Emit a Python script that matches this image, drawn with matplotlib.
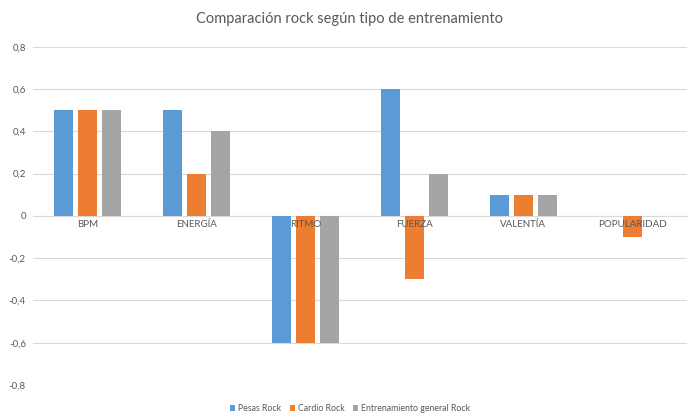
import numpy as np
import matplotlib.pyplot as plt

categorias = ['BPM', 'ENERGÍA', 'RITMO', 'FUERZA', 'VALENTÍA', 'POPULARIDAD']
pesas_rock = [0.5, 0.5, -0.6, 0.6, 0.1, 0.0]
cardio_rock = [0.5, 0.2, -0.6, -0.3, 0.1, -0.1]
general_rock = [0.5, 0.4, -0.6, 0.2, 0.1, 0.0]
series = ['Pesas Rock', 'Cardio Rock', 'Entrenamiento general Rock']
colores = ['#5B9BD5', '#ED7D31', '#A5A5A5']
yticks = [-0.8, -0.6, -0.4, -0.2, 0, 0.2, 0.4, 0.6, 0.8]

plt.rcParams['font.family'] = ['Lato', 'DejaVu Sans']
gris_texto = '#595959'

fig = plt.figure(figsize=(7, 4.18), dpi=100)
ax = fig.add_axes([0.047, 0.079, 0.934, 0.809])

x = np.arange(len(categorias))
ancho = 0.175
paso = 0.22
for i, (vals, nombre, col) in enumerate(zip([pesas_rock, cardio_rock, general_rock], series, colores)):
    ax.bar(x + (i - 1) * paso, vals, ancho, color=col, label=nombre, zorder=2)

ax.set_xlim(-0.5, len(categorias) - 0.5)
ax.set_ylim(-0.8, 0.8)
ax.set_yticks(yticks)
ax.set_yticklabels([('%g' % v).replace('.', ',') for v in yticks], color=gris_texto, fontsize=7)
ax.yaxis.grid(True, color='#D9D9D9', linewidth=0.8)
ax.yaxis.set_zorder(0.5)
ax.tick_params(axis='y', length=0, pad=5)

for s in ['top', 'right', 'left']:
    ax.spines[s].set_visible(False)
ax.spines['bottom'].set_position(('data', 0))
ax.spines['bottom'].set_color('#D9D9D9')
ax.spines['bottom'].set_zorder(1)
ax.set_xticks(x)
ax.set_xticklabels(categorias, color=gris_texto, fontsize=7)
ax.tick_params(axis='x', length=0, pad=3)
ax.xaxis.set_zorder(5)

fig.text(0.5, 0.955, 'Comparación rock según tipo de entrenamiento',
         ha='center', va='center', fontsize=10.5, color=gris_texto)

fig.legend(loc='center', bbox_to_anchor=(0.5, 0.022), ncol=3, frameon=False,
           fontsize=6.3, handlelength=0.6, handleheight=0.6, handletextpad=0.3,
           columnspacing=1.0, labelcolor=gris_texto)

fig.savefig('out.png', dpi=100)
